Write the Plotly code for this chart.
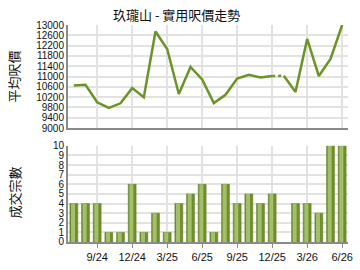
import plotly.graph_objects as go

months = ["7/24", "8/24", "9/24", "10/24", "11/24", "12/24",
          "1/25", "2/25", "3/25", "4/25", "5/25", "6/25",
          "7/25", "8/25", "9/25", "10/25", "11/25", "12/25",
          "1/26", "2/26", "3/26", "4/26", "5/26", "6/26"]
prices = [10650, 10680, 10000, 9780, 9960, 10550,
          10200, 12750, 12070, 10320, 11370, 10890,
          9970, 10290, 10920, 11070, 10960, 11020,
          11030, 10400, 12460, 11020, 11680, 13000]
deals = [4, 4, 4, 1, 1, 6,
         1, 3, 1, 4, 5, 6,
         1, 6, 4, 5, 4, 5,
         None, 4, 4, 3, 10, 10]
tick_months = ["9/24", "12/24", "3/25", "6/25", "9/25", "12/25", "3/26", "6/26"]
price_ticks = list(range(9000, 13001, 400))
deal_ticks = list(range(0, 11))
dotted_from, dotted_to = "12/25", "1/26"

i0 = months.index(dotted_from)
i1 = months.index(dotted_to)

FONT = "Liberation Sans, Arial, Noto Sans CJK TC"
LINE_C = "#6b9328"

fig = go.Figure()
fig.add_trace(go.Scatter(x=months[:i0 + 1], y=prices[:i0 + 1], mode="lines",
                         line=dict(color=LINE_C, width=2.5), xaxis="x", yaxis="y"))
fig.add_trace(go.Scatter(x=months[i1:], y=prices[i1:], mode="lines",
                         line=dict(color=LINE_C, width=2.5), xaxis="x", yaxis="y"))
fig.add_trace(go.Scatter(x=months[i0:i1 + 1], y=prices[i0:i1 + 1], mode="lines",
                         line=dict(color=LINE_C, width=2.5, dash="dot"), xaxis="x", yaxis="y"))

fig.add_trace(go.Bar(x=months, y=deals, width=0.68, marker=dict(color="#6e8f2c",
                     line=dict(color="#5a7a1e", width=0.5)), xaxis="x2", yaxis="y2"))
fig.add_trace(go.Bar(x=months, y=deals, width=0.34, offset=-0.24,
                     marker=dict(color="#a3bf6a", line=dict(width=0)), xaxis="x2", yaxis="y2"))

axis_common = dict(type="category", categoryorder="array", categoryarray=months,
                   range=[-0.5, len(months) - 0.5], tickmode="array", tickvals=tick_months,
                   showgrid=True, gridcolor="#e2e2e2", gridwidth=2,
                   showline=True, linecolor="#8a8a8a", linewidth=2, zeroline=False,
                   fixedrange=True)

fig.update_layout(
    width=360, height=270,
    margin=dict(l=68, r=7, t=25, b=26),
    paper_bgcolor="white", plot_bgcolor="white",
    showlegend=False, barmode="overlay",
    font=dict(family=FONT, size=11, color="#111"),
    xaxis=dict(axis_common, domain=[0, 1], anchor="y", showticklabels=False, ticks=""),
    yaxis=dict(domain=[0.525, 1.0], anchor="x", range=[9000, 13000], tickvals=price_ticks,
               tickformat="d",
               showgrid=True, gridcolor="#e2e2e2", gridwidth=1.5, showline=True,
               linecolor="#8a8a8a", linewidth=2, zeroline=False, ticks="", ticklen=0,
               tickfont=dict(size=10), fixedrange=True),
    xaxis2=dict(axis_common, domain=[0, 1], anchor="y2", showticklabels=True,
                ticks="outside", ticklen=4, tickcolor="#8a8a8a", tickfont=dict(size=11)),
    yaxis2=dict(domain=[0, 0.443], anchor="x2", range=[0, 10], tickvals=deal_ticks,
                showgrid=True, gridcolor="#e2e2e2", gridwidth=1.5, showline=True,
                linecolor="#8a8a8a", linewidth=2, zeroline=False, ticks="",
                tickfont=dict(size=10), fixedrange=True),
    annotations=[
        dict(text="玖瓏山 - 實用呎價走勢", xref="paper", yref="paper",
             x=(178 - 68) / 285, y=(244 - 14) / 219, xanchor="center", yanchor="middle",
             showarrow=False, font=dict(size=13, color="#111", family="Noto Sans CJK TC")),
        dict(text="平均呎價", xref="paper", yref="paper", textangle=-90,
             x=(13 - 68) / 285, y=(244 - 77) / 219, xanchor="center", yanchor="middle",
             showarrow=False, font=dict(size=13, color="#111", family="Noto Sans CJK TC")),
        dict(text="成交宗數", xref="paper", yref="paper", textangle=-90,
             x=(13 - 68) / 285, y=(244 - 194) / 219, xanchor="center", yanchor="middle",
             showarrow=False, font=dict(size=13, color="#111", family="Noto Sans CJK TC")),
    ],
)

fig.write_html("out.html")
